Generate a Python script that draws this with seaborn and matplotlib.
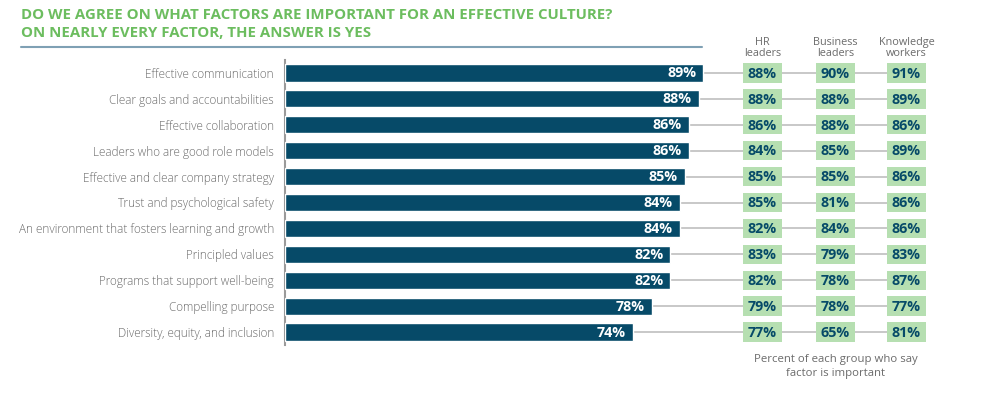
import matplotlib
matplotlib.use("Agg")
import matplotlib.pyplot as plt
import seaborn as sns
import pandas as pd
from matplotlib.patches import Rectangle

factors = [
    "Effective communication",
    "Clear goals and accountabilities",
    "Effective collaboration",
    "Leaders who are good role models",
    "Effective and clear company strategy",
    "Trust and psychological safety",
    "An environment that fosters learning and growth",
    "Principled values",
    "Programs that support well-being",
    "Compelling purpose",
    "Diversity, equity, and inclusion",
]
overall = [89, 88, 86, 86, 85, 84, 84, 82, 82, 78, 74]
hr_leaders = [88, 88, 86, 84, 85, 85, 82, 83, 82, 79, 77]
business_leaders = [90, 88, 88, 85, 85, 81, 84, 79, 78, 78, 65]
knowledge_workers = [91, 89, 86, 89, 86, 86, 86, 83, 87, 77, 81]
group_names = ["HR\nleaders", "Business\nleaders", "Knowledge\nworkers"]

NAVY = "#064a68"
GREEN_BOX = "#b6dfb1"
TITLE_GREEN = "#6cbd5f"
GRAY_TXT = "#6b6b6b"

sns.set_theme(style="white")
plt.rcParams["font.family"] = ["Open Sans", "DejaVu Sans"]

df = pd.DataFrame({"factor": factors, "overall": overall})

fig = plt.figure(figsize=(9.84, 3.94), dpi=100)
W, H = 984, 394
ax = fig.add_axes([285 / W, (H - 345) / H, (W - 285) / W, 285 / H])

px = 4.7  # pixels per percent point
sns.barplot(data=df, y="factor", x="overall", orient="h", color=NAVY,
            width=0.66, saturation=1, ax=ax, zorder=3)
ax.set_xlim(0, (W - 285) / px)
ax.set_ylim(10.5, -0.5)
ax.set_xlabel("")
ax.set_ylabel("")
ax.set_xticks([])
ax.tick_params(axis="y", length=0, pad=8, labelsize=8.5, labelcolor=GRAY_TXT)
for s in ["top", "right", "bottom"]:
    ax.spines[s].set_visible(False)
ax.spines["left"].set_color("#9a9a9a")
ax.spines["left"].set_linewidth(1.5)
for lab in ax.get_yticklabels():
    lab.set_fontweight("light")

col_x = [(762.5 - 285) / px, (835.5 - 285) / px, (906.5 - 285) / px]
box_w = 39 / px
box_h = 19.5 / 26
groups = [hr_leaders, business_leaders, knowledge_workers]

for i, v in enumerate(overall):
    ax.plot([v, col_x[-1]], [i, i], color="#c4c4c4", lw=1.3, zorder=1)
    ax.text(v - 1.5, i + 0.02, f"{v}%", ha="right", va="center", color="white",
            fontsize=10.3, fontweight="bold", zorder=4)
    for cx, vals in zip(col_x, groups):
        ax.add_patch(Rectangle((cx - box_w / 2, i - box_h / 2), box_w, box_h,
                               facecolor=GREEN_BOX, edgecolor="none", zorder=2))
        ax.text(cx, i + 0.03, f"{vals[i]}%", ha="center", va="center", color=NAVY,
                fontsize=10.3, fontweight="bold", zorder=4)

for cx, name in zip([762.5, 835.5, 906.5], group_names):
    fig.text(cx / W, (H - 48) / H, name, ha="center", va="center", color=GRAY_TXT,
             fontsize=7.8, linespacing=1.05)

fig.text(835.5 / W, (H - 366.5) / H, "Percent of each group who say\nfactor is important",
         ha="center", va="center", color=GRAY_TXT, fontsize=8.2, linespacing=1.4)

fig.text(21 / W, (H - 15) / H, "DO WE AGREE ON WHAT FACTORS ARE IMPORTANT FOR AN EFFECTIVE CULTURE?",
         ha="left", va="center", color=TITLE_GREEN, fontsize=10.8, fontweight="bold")
fig.text(21 / W, (H - 33) / H, "ON NEARLY EVERY FACTOR, THE ANSWER IS YES",
         ha="left", va="center", color=TITLE_GREEN, fontsize=10.8, fontweight="bold")
fig.add_artist(plt.Line2D([21 / W, 702 / W], [(H - 47) / H, (H - 47) / H],
                          color="#7fa0b4", lw=1.5, transform=fig.transFigure))

fig.savefig("out.png", dpi=100, facecolor="white")
